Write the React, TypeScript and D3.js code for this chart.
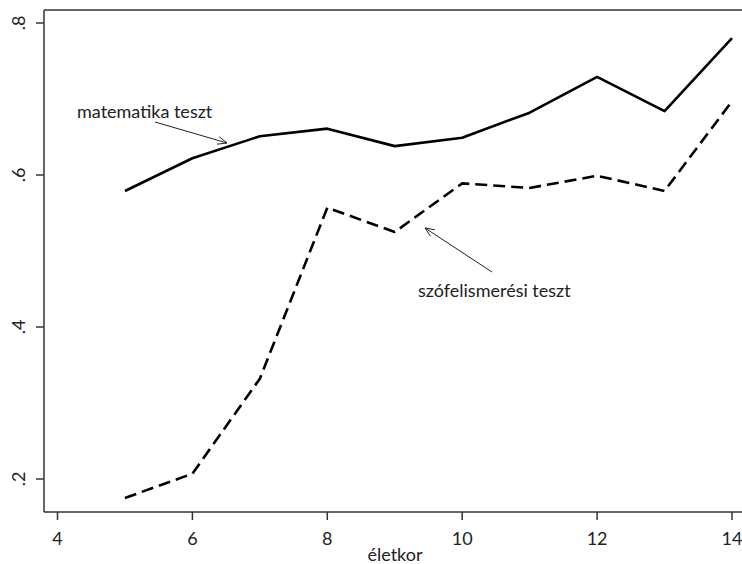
import React from "react";
import * as d3 from "d3";

const ages = [5, 6, 7, 8, 9, 10, 11, 12, 13, 14];
const mathScores = [0.579, 0.622, 0.651, 0.661, 0.638, 0.649, 0.682, 0.729, 0.684, 0.780];
const wordScores = [0.175, 0.207, 0.332, 0.557, 0.525, 0.589, 0.583, 0.599, 0.579, 0.697];
const xTicks = [4, 6, 8, 10, 12, 14];
const yTicks = [0.2, 0.4, 0.6, 0.8];
const yTickLabels = [".2", ".4", ".6", ".8"];
const xTitle = "életkor";
const mathLabel = "matematika teszt";
const wordLabel = "szófelismerési teszt";

const W = 742;
const H = 564;
const left = 44;
const top = 10;
const bottom = 512;
const right = 742;

const FONT = "Lato, 'Open Sans', sans-serif";

export default function App() {
  const x = d3.scaleLinear().domain([4, 14]).range([57.5, 732]);
  const y = d3.scaleLinear().domain([0.2, 0.8]).range([479, 23]);

  const line = d3
    .line<number>()
    .x((_, i) => x(ages[i]))
    .y((d) => y(d));

  const arrowHead = (x1: number, y1: number, x2: number, y2: number) => {
    const ang = Math.atan2(y2 - y1, x2 - x1);
    const len = 10;
    const spread = 0.4;
    const a1 = ang + Math.PI - spread;
    const a2 = ang + Math.PI + spread;
    return `M${x2 + len * Math.cos(a1)},${y2 + len * Math.sin(a1)} L${x2},${y2} L${x2 + len * Math.cos(a2)},${y2 + len * Math.sin(a2)}`;
  };

  return (
    <svg
      width={W}
      height={H}
      style={{ position: "fixed", left: 0, top: 0, background: "#fff" }}
      fontFamily={FONT}
    >
      <rect x={0} y={0} width={W} height={H} fill="#fff" />
      {/* frame */}
      <line x1={left} y1={top} x2={right} y2={top} stroke="#333" strokeWidth={1.5} />
      <line x1={left} y1={top} x2={left} y2={bottom} stroke="#333" strokeWidth={1.5} />
      <line x1={left} y1={bottom} x2={right} y2={bottom} stroke="#333" strokeWidth={1.5} />

      {/* y ticks */}
      {yTicks.map((t, i) => (
        <g key={"y" + t}>
          <line x1={36} x2={left} y1={y(t)} y2={y(t)} stroke="#333" strokeWidth={1.5} />
          <text
            transform={`translate(25,${y(t)}) rotate(-90)`}
            textAnchor="middle"
            fontSize={18}
            fill="#222"
          >
            {yTickLabels[i]}
          </text>
        </g>
      ))}

      {/* x ticks */}
      {xTicks.map((t) => (
        <g key={"x" + t}>
          <line x1={x(t)} x2={x(t)} y1={bottom} y2={520} stroke="#333" strokeWidth={1.5} />
          <text x={x(t)} y={545} textAnchor="middle" fontSize={18} fill="#222">
            {t}
          </text>
        </g>
      ))}
      <text x={395} y={561} textAnchor="middle" fontSize={18} fill="#222">
        {xTitle}
      </text>

      {/* series */}
      <path d={line(mathScores) || ""} fill="none" stroke="#000" strokeWidth={2.6} strokeLinejoin="round" />
      <path
        d={line(wordScores) || ""}
        fill="none"
        stroke="#000"
        strokeWidth={2.6}
        strokeDasharray="12,6"
        strokeLinejoin="round"
      />

      {/* annotations */}
      <text x={77} y={118} fontSize={18} fill="#222">
        {mathLabel}
      </text>
      <line x1={155} y1={122} x2={227} y2={143} stroke="#222" strokeWidth={1} />
      <path d={arrowHead(155, 122, 227, 143)} fill="none" stroke="#222" strokeWidth={1} />

      <text x={418} y={297} fontSize={18} fill="#222">
        {wordLabel}
      </text>
      <line x1={492} y1={272} x2={425} y2={228} stroke="#222" strokeWidth={1} />
      <path d={arrowHead(492, 272, 425, 228)} fill="none" stroke="#222" strokeWidth={1} />
    </svg>
  );
}
